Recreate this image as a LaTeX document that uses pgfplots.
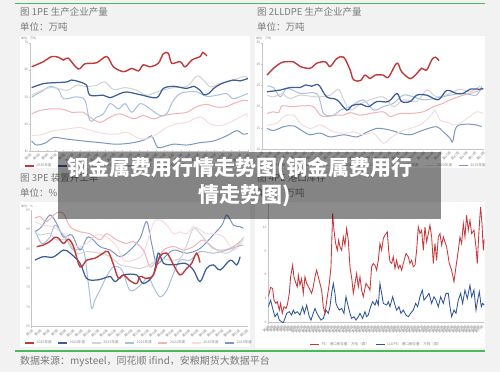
\documentclass[border=0pt]{standalone}
\usepackage{pgfplots}
\pgfplotsset{compat=1.18}
\usepackage{fontspec}
\setmainfont{Noto Sans CJK SC}
\definecolor{bg}{HTML}{F2F2F2}
\definecolor{grn}{HTML}{4CB85C}
\definecolor{c25}{HTML}{C0393B}
\definecolor{c24}{HTML}{3D5F96}
\definecolor{c23}{HTML}{D3D3D3}
\definecolor{c22}{HTML}{A8C0DE}
\definecolor{c21}{HTML}{F2B3B5}
\definecolor{c20}{HTML}{F6DCDD}
\definecolor{c19}{HTML}{7D97C4}
\definecolor{ttl}{HTML}{7A7A7A}
\definecolor{tk}{HTML}{8C8C8C}
\definecolor{p4r}{HTML}{C8373A}
\definecolor{p4b}{HTML}{2F5597}
\pgfplotsset{
  panel/.style={
    scale only axis, anchor=south west,
    axis lines=left,
    axis line style={-, draw=gray!45, line width=0.5pt},
    major tick length=1.2pt,
    tick style={draw=gray!45, line width=0.3pt},
    tick label style={font=\fontsize{3.3}{4}\selectfont, text=tk},
    /pgf/number format/assume math mode=true,
    x tick label style={rotate=45, anchor=north east, inner sep=0.8pt},
    y tick label style={inner sep=1pt},
    legend style={draw=none, fill=none, font=\fontsize{3.6}{4}\selectfont, text=tk,
      legend columns=-1, /tikz/every even column/.append style={column sep=4pt}, inner sep=0pt},
    legend image code/.code={\draw[#1, line width=1.2pt] (0pt,0pt) -- (9pt,0pt);},
    every axis plot/.append style={line width=1pt, smooth, tension=0.55, mark=none},
    reverse legend,
  },
}
\begin{document}
\begin{tikzpicture}
\fill[bg] (0pt,0pt) rectangle (500pt,372pt);
\useasboundingbox (0pt,0pt) rectangle (500pt,372pt);
% white panels
\fill[white] (20pt,204pt) rectangle (250pt,336pt);
\fill[white] (255pt,204pt) rectangle (485pt,336pt);
\fill[white] (20pt,25pt) rectangle (250pt,170pt);
\fill[white] (255pt,24pt) rectangle (485pt,170pt);
% green rules
\draw[grn, line width=1.5pt] (15pt,368.5pt) -- (485pt,368.5pt);
\draw[grn, line width=2pt] (15pt,21pt) -- (485pt,21pt);
% titles
\node[anchor=base west, text=ttl, font=\fontsize{9.5}{11}\selectfont, inner sep=0] at (20pt,356pt) {图 1PE 生产企业产量};
\node[anchor=base west, text=ttl, font=\fontsize{9.5}{11}\selectfont, inner sep=0] at (20pt,341pt) {单位：万吨};
\node[anchor=base west, text=ttl, font=\fontsize{9.5}{11}\selectfont, inner sep=0] at (257pt,356pt) {图 2LLDPE 生产企业产量};
\node[anchor=base west, text=ttl, font=\fontsize{9.5}{11}\selectfont, inner sep=0] at (257pt,341pt) {单位：万吨};
\node[anchor=base west, text=ttl, font=\fontsize{9.5}{11}\selectfont, inner sep=0] at (20pt,190.5pt) {图 3PE 装置开工率};
\node[anchor=base west, text=ttl, font=\fontsize{9.5}{11}\selectfont, inner sep=0] at (20pt,175.5pt) {单位：\%};
\node[anchor=base west, text=ttl, font=\fontsize{9.5}{11}\selectfont, inner sep=0] at (257pt,190.5pt) {图 4PE 港口库存};
\node[anchor=base west, text=ttl, font=\fontsize{9.5}{11}\selectfont, inner sep=0] at (257pt,175.5pt) {单位：万吨};
\node[anchor=base west, text=ttl, font=\fontsize{10}{12}\selectfont, inner sep=0] at (20pt,8pt) {数据来源：mysteel，同花顺 ifind，安粮期货大数据平台};
% tiny unit labels
\node[anchor=west, text=tk, font=\fontsize{3}{3.5}\selectfont, inner sep=0] at (21pt,334pt) {单位：万吨};
\node[anchor=west, text=tk, font=\fontsize{3}{3.5}\selectfont, inner sep=0] at (256pt,334pt) {单位：万吨};
\node[anchor=west, text=tk, font=\fontsize{3}{3.5}\selectfont, inner sep=0] at (21pt,166pt) {单位：\%};

% ---------- Panel 1 ----------
\begin{axis}[panel, at={(30pt,221pt)}, width=218pt, height=108.3pt,
  xmin=1, xmax=53, ymin=30, ymax=70, ytick={30,40,...,70},
  xtick={1,3,...,53}, xticklabel={\pgfmathtruncatemacro{\w}{\tick}第\w 周},
  legend style={at={(0.5,0)}, anchor=center, yshift=-15pt}]
\addplot[c19] coordinates {(1.4,33.7)(2.6,32.2)(4.9,33.1)(6.6,35)(9.8,34.4)(13.7,33.7)(17.7,33.1)(21.7,32.5)(25.7,33.1)(28.8,34.4)(30,35.6)(31.2,31.9)(32,31.2)(35.2,32.5)(38.4,32.2)(41.6,33.1)(44.8,33.7)(47.9,35.6)(50.3,37.5)(51.9,36.2)(53,36.5)};
\addplot[c20] coordinates {(1.4,35.6)(4.2,36.2)(6.6,37.5)(9.8,38.1)(12.9,38.7)(15.3,37.7)(18.5,36.5)(21.7,36.2)(24.1,36.9)(26.5,35)(28.8,34.4)(31.2,36.2)(33.6,38.7)(36,40)(38.4,40.6)(41.6,42.5)(44,40)(46.3,39.3)(48.7,40.6)(51.1,42.5)(52.7,43.7)(53,42.5)};
\addplot[c21] coordinates {(1.4,43.7)(3.4,45)(6.6,45.6)(9,45.4)(10.9,44.3)(13.7,44.3)(15.3,42.5)(17.7,40.6)(20.1,42.5)(22.5,43.7)(25.7,41.9)(28,43.1)(30.4,41.9)(32.8,43.1)(35.2,43.7)(38.4,44.3)(40.8,46.4)(43.2,47.2)(45.6,46.2)(47.9,46.4)(49.5,47.5)(51.9,48.7)(53,48.5)};
\addplot[c22] coordinates {(1.4,49.9)(4.2,52.4)(5.8,53.9)(7.8,52.7)(9,49.3)(12.1,50)(14.1,48.7)(15.3,41.2)(16.9,42.5)(18.5,43.7)(20.1,47.5)(22.1,45.6)(23.7,47.5)(25.3,44.3)(27.3,47.5)(29.6,45.6)(32,43.1)(33.6,43.7)(35.2,48.7)(36.8,51.2)(38.4,51.8)(40.8,51.8)(43.2,50.2)(45.6,50.6)(47.9,51.2)(49.5,49.3)(51.9,50.6)(53,51.2)};
\addplot[c23] coordinates {(1.4,50.6)(5.8,53.4)(9.8,52.4)(12.1,54.3)(14.5,53.8)(16.9,54.3)(18.9,55.5)(20.9,52.7)(23.7,53.4)(26.5,52.4)(28.8,50.6)(32,52.2)(35.2,53.4)(38.4,53.9)(40.8,57.7)(42.4,56.2)(44,53.7)(46.3,54.9)(49.5,56.2)(52.3,57.7)(53,56.2)};
\addplot[c24, line width=1.25pt] coordinates {(1.4,53.4)(4.2,54.9)(6.6,55.2)(9.8,55.5)(10.9,56.2)(12.9,55.5)(14.5,54.3)(15.3,50.6)(18.5,50.6)(20.1,49.7)(22.5,51.2)(24.1,51.8)(27.3,50.8)(31.2,49.7)(32.8,53.1)(35.2,53.9)(38.4,53.1)(40,53.9)(41.6,52.4)(42.4,50.8)(43.6,51.2)(44.8,53.1)(46.7,54.9)(49.5,56.2)(51.1,55.9)(53,56.8)};
\addplot[c25, line width=1.4pt] coordinates {(1.4,61.1)(4.2,63.0)(6.2,64.9)(7.8,64.6)(9.0,63.6)(10.1,64.3)(12.5,60.3)(14.1,62.2)(16.9,62.6)(19.3,64.9)(20.9,61.1)(23.3,59.3)(25.3,60.5)(26.9,59.6)(28.0,61.8)(29.6,61.1)(31.6,62.4)(32.8,65.9)(34.0,66.1)(34.8,62.4)(36.8,63.0)(38.0,61.1)(39.6,63.6)(41.6,64.9)(42.2,66.4)(43.2,65.1)};
\legend{2019年度,2020年度,2021年度,2022年度,2023年度,2024年度,2025年度}
\end{axis}

% ---------- Panel 2 ----------
\begin{axis}[panel, at={(262pt,222.7pt)}, width=221.3pt, height=106.6pt,
  xmin=1, xmax=53, ymin=10, ymax=35, ytick={10,15,...,35},
  xtick={1,3,...,53}, xticklabel={\pgfmathtruncatemacro{\w}{\tick}第\w 周},
  legend style={at={(0.5,0)}, anchor=center, yshift=-16pt}]
\addplot[c19] coordinates {(2.2,14.9)(3.7,14.4)(6.1,15.3)(8.4,15.5)(10.8,14.1)(12.3,13.4)(14.7,13.8)(17,12.9)(20.2,13.4)(23.3,12.9)(25.2,13.8)(28,14.9)(31.1,14.5)(33.4,13.8)(35.8,13.4)(38.9,14.5)(42,15.3)(43.6,14.1)(45.2,12.6)(45.8,11.8)(46.7,15.3)(49.1,15.9)(51.4,15.7)(52.6,15.3)};
\addplot[c20] coordinates {(2.2,15.7)(4.5,16.1)(6.1,17.7)(8.4,18)(10,16.1)(12.3,14.9)(14.7,15.7)(17,14.5)(18.6,13.9)(20.9,13.8)(22.5,14.1)(24.8,13.4)(27.2,13.8)(29.5,11.4)(31.1,12.6)(33.4,14.1)(35.8,14.9)(38.1,15.7)(40.5,17.7)(41.7,19.2)(42.8,16.9)(45.2,16.1)(46.7,15.7)(49.9,17.7)(51.4,18.8)(53,18.4)};
\addplot[c21] coordinates {(2.2,18.4)(3.7,18.8)(4.9,18.6)(5.7,20.2)(7.6,20)(10.8,20.2)(13.1,20)(14.7,18)(16.2,17.7)(18.6,18)(20.2,18)(21.7,18.6)(24.1,18)(26.4,18.4)(29.5,18.8)(31.1,17.7)(33.4,18.4)(35.8,18.4)(38.9,18.8)(41.3,20)(43.6,20.8)(45.2,21.6)(48.3,22.7)(50.6,23.3)(53,24.1)};
\addplot[c22] coordinates {(2.2,24.8)(3.7,24.5)(5.3,22.3)(6.9,24.3)(10,23.1)(13.9,23)(15.5,18.4)(17.8,18)(19.4,19.2)(21.7,20)(24.8,21.6)(27.2,19.2)(29.5,20)(31.9,20.8)(34.2,22.7)(36.6,22.3)(38.9,21.6)(42,22)(45.2,22.7)(48.3,23.1)(51.4,22.7)(52.6,24.8)};
\addplot[c23] coordinates {(2.2,22.7)(3.7,22.3)(5.7,23)(7.6,21.9)(10,22.7)(13.9,22.3)(17,22.7)(19,24.1)(20.2,21.6)(21.7,19.2)(24.1,20.6)(26.4,21.6)(29.5,22.3)(31.9,20)(34.2,21.6)(37.4,21.2)(39.7,23.9)(42,22.3)(45.2,23.1)(47.5,24.1)(49.9,23.5)(52.2,24.8)};
\addplot[c24, line width=1.25pt] coordinates {(2.2,23.5)(5.3,23.9)(7.6,24.5)(10,24.5)(11.2,25.1)(12.7,24.8)(14.3,25.1)(16.2,22.3)(18.6,21.6)(20.9,19.2)(22.1,20.2)(24.1,20.6)(26,20)(28,21.2)(30.7,21.2)(32.7,23.1)(33.8,21.2)(35.8,21.2)(37.4,22.7)(39.7,22.7)(42.4,21.6)(44.4,23.8)(46.7,23.1)(48.3,23.1)(49.9,24.1)(52.2,24.1)(53,24.3)};
\addplot[c25, line width=1.4pt] coordinates {(2.2,27.4)(3.7,29)(5.3,30.2)(6.1,30.5)(8.4,30.5)(10,29.4)(12.3,29)(13.9,30.2)(15.9,30.5)(17,29.4)(18.6,31.3)(20.2,31.6)(21.7,28.6)(22.5,26.3)(24.1,26.1)(25.2,27.4)(26.4,26.6)(27.6,27.4)(29.5,27.4)(30.7,26.9)(32.7,30.2)(33.8,28.2)(35.8,26.6)(37.4,27.8)(38.5,29)(39.7,28.6)(40.9,31)(41.7,31.6)(42.6,30.8)};
\legend{2019年度,2020年度,2021年度,2022年度,2023年度,2024年度,2025年度}
\end{axis}

% ---------- Panel 3 ----------
\begin{axis}[panel, at={(31.7pt,45.3pt)}, width=215pt, height=116.7pt,
  xmin=1, xmax=53, ymin=65, ymax=95, ytick={65,70,...,95},
  xtick={1,3,...,53}, xticklabel={\pgfmathtruncatemacro{\w}{\tick}第\w 周},
  legend style={at={(0.5,0)}, anchor=center, yshift=-16.3pt}]
\addplot[c19] coordinates {(1.8,89.4)(3.4,90.7)(5.4,93.7)(7,91.6)(8.7,88)(10.7,88.6)(12.7,84.7)(14.7,88.1)(17.5,85.6)(20,84.7)(22.4,83)(24.8,84.7)(27.2,87.7)(28.8,92)(30,86.4)(31.2,81.3)(32.9,82.6)(35.3,84.7)(38.5,83.9)(41.7,85.1)(44.9,88.6)(47,91.1)(48.2,93.7)(49.8,91.1)(51.4,90.7)(52.2,90.3)};
\addplot[c20] coordinates {(1.8,92)(3.8,91.1)(6.2,90.7)(7.9,89.4)(9.5,88.3)(11.9,85.6)(14.3,86.4)(16.7,88.6)(19.1,88.1)(21.6,85.6)(23.2,82.1)(25.6,82.1)(28,83.9)(30.4,91.6)(32,92.4)(33.7,91.1)(35.3,88.9)(36.9,89.4)(38.5,88.9)(40.1,90.7)(41.7,89.9)(43.3,88.9)(44.9,88.9)(47.4,88.1)(49.8,84.7)(52.2,87.3)};
\addplot[c21] coordinates {(1.8,92.9)(3,93.3)(4.6,92)(7,94.3)(8.7,94.1)(10.3,90.7)(12.7,89.4)(15.1,88.9)(17.5,87.3)(19.1,88.9)(21.6,87.3)(24,86.4)(25.6,86.9)(28,84.7)(29.6,80.4)(31.2,82.1)(32.9,84.7)(35.3,85.6)(37.7,84.7)(40.1,85.6)(42.5,87.3)(44.9,85.1)(47.4,84.7)(49.8,85.6)(52.2,87.7)};
\addplot[c22] coordinates {(1.8,89.9)(3.4,86.4)(5.4,88)(6.6,91.1)(8.3,89)(9.5,87.3)(11.1,84.7)(13.5,84.7)(14.7,76.1)(15.5,69.7)(16.3,71.9)(17.5,74.4)(19.1,77.9)(20.8,80.4)(22.8,79.6)(24.8,74.3)(27.2,75.6)(29.2,77.7)(30.4,75.3)(32,72.7)(33.7,74.4)(35.3,78.7)(36.9,82.1)(39.3,82.1)(41.7,84.3)(44.9,83.9)(48.2,84.7)(50.6,85.6)(52.2,86)};
\addplot[c23] coordinates {(1.8,89)(3.4,88.6)(5.4,89)(7,87.3)(9.5,87.3)(11.9,83.9)(14.3,84.3)(17.5,83.9)(20,83)(22.4,80.9)(24.8,80.4)(27.2,80)(29.6,80.9)(32,82.6)(34.5,82.1)(36.9,82.6)(38.5,86)(40.1,90.3)(41.7,89)(43.3,86.9)(45.8,84.7)(48.2,83.9)(50.6,85.6)(52.2,88.1)};
\addplot[c24, line width=1.25pt] coordinates {(1.8,82.1)(3.8,83)(6.2,82.9)(8.7,84.7)(10.3,83.9)(12.7,81.3)(14.3,77.4)(16.7,77)(18.3,77.4)(20,77.9)(21.2,76.6)(23.2,78.3)(26.4,78.3)(28,76.1)(30.4,78.3)(31.6,83.9)(32.9,81.3)(35.3,80.9)(38.1,81.3)(40.1,79.6)(41.7,76.6)(43.3,80)(44.9,80.9)(46.6,79.6)(49,82.1)(50.6,80.9)(51.4,83)};
\addplot[c25, line width=1.4pt] coordinates {(2.2,85.6)(3.8,86)(5.4,86.9)(6.6,88)(7.5,87.7)(8.7,86.4)(9.9,87.5)(11.1,85.6)(12.7,80.4)(14.3,82.1)(16.3,82.6)(18.3,83.9)(19.5,84.3)(20.8,80.9)(22,77.4)(23.2,78.3)(24.8,76.8)(26.4,76.1)(27.2,77.9)(28.8,77.4)(30.4,78.3)(32,83)(33.7,83.9)(35.3,80.9)(36.9,78.3)(38.5,80)(39.7,81.3)(40.9,83.9)(41.7,81.5)};
\legend{2019年度,2020年度,2021年度,2022年度,2023年度,2024年度,2025年度}
\end{axis}

% ---------- Panel 4 ----------
\begin{axis}[panel, at={(268.3pt,49.3pt)}, width=216pt, height=119.7pt,
  xmin=0, xmax=129.6, ymin=0, ymax=15, ytick={0,3,...,15},
  xtick={0,2,...,128}, xticklabel={\pgfmathtruncatemacro{\w}{\tick/2+1}第\w 期},
  every axis plot/.append style={sharp plot, line width=0.85pt},
  legend style={at={(0.5,0)}, anchor=center, yshift=-21.6pt}]
\addplot[p4b] coordinates {(0,2)(1.4,2.83)(2.6,1.79)(4,0.75)(5.4,1.17)(6.6,0.33)(8,0.13)(9,0)(10,0.54)(11,1.17)(12.6,1.38)(14,0.96)(15,1.58)(16,1.17)(17.4,1.38)(19,0.96)(20.6,2)(21.6,1.17)(23,2.21)(24.6,0.75)(25.6,0.33)(26.6,0.96)(28,1.79)(29,1.25)(30.4,0.75)(31.6,0.33)(33,0.54)(34.6,1.58)(36,1.17)(37,2)(38,3.67)(39,4.92)(40,3.67)(40.6,2.42)(41.4,2)(42.6,1.58)(44,1.79)(45.4,1.17)(46.6,3.25)(48,2)(49,1.17)(50,0.54)(51.4,0.75)(52.6,0.33)(54,0.75)(55,1.17)(56.6,0.54)(58,1.38)(59,0.75)(60,0.96)(61.4,2)(62.6,2.63)(64,2.21)(65,2.83)(66,2.21)(67,4.92)(68,3.67)(69,2.42)(71,2.21)(72,2.63)(73,2)(74.6,3.25)(76,2.21)(77,1.58)(78.4,2)(79.6,1.17)(81,1.58)(82.6,0.96)(84,0.75)(85.4,1.17)(87,1.58)(88.4,2.42)(89.6,2)(91,3.25)(92.4,4.08)(93.4,2.83)(95,3.25)(96.4,3.67)(98,2.42)(99.4,3.25)(100.6,2.83)(102,2)(103.4,3.25)(105,2.42)(106.6,3.67)(108,3.67)(109,2)(110,0.75)(111.4,1.58)(112.6,1.17)(114,2.83)(115.4,3.67)(116.6,2.42)(118,4.08)(119.4,3.04)(121,4.71)(122,3.25)(123.4,4.08)(124.6,1.58)(125.6,2.83)(126.6,3.88)(127.8,2)(128.6,2.42)(129.6,2.21)};
\addplot[p4r] coordinates {(0,3.25)(1.4,4.42)(2.6,4.29)(3.4,2.83)(4.6,2.42)(5.4,2.63)(6.6,1.58)(7.4,2.42)(8.4,1.17)(9.4,2)(10.6,1.79)(11.4,2.21)(12.6,3.67)(13.4,5.75)(14.6,7.21)(15.4,5.75)(16.6,4.92)(17.4,4.5)(18,5.96)(19,4.71)(20,5.54)(21,3.67)(22,5.75)(23,4.92)(24.6,4.29)(26,3.67)(27,4.5)(28,5.75)(29,6.58)(30,5.75)(31,4.92)(32,4.08)(33,2)(34,1.17)(35.4,3.25)(36.6,4.92)(37.6,7)(38.6,13.67)(39.4,11.58)(40.4,9.92)(41.4,9.08)(42.2,10.33)(43,9.5)(44,9.08)(45,10.75)(46,9.71)(47,11.79)(48,10.33)(49,7)(50.2,5.33)(51,3.67)(52,4.92)(53,6.17)(54,4.5)(55,5.75)(56,4.08)(57,3.25)(58.6,4.92)(60,4.5)(61,4.08)(62,7)(63,7.42)(64,7.21)(65,6.58)(66,7.83)(67,9.92)(68,9.08)(69,10.54)(70,10.96)(71.4,11.38)(72.2,9.08)(73,7.63)(74,7.42)(75,8.25)(76,6.79)(77,7.83)(78,6.79)(79,7.21)(80,6.58)(81,7.42)(82.6,8.67)(84,8.25)(85,7.42)(86,7.83)(87,7)(88,7.21)(89,9.08)(90,12)(91,11.17)(92,11.58)(93,9.08)(94,12)(95,10.13)(96,11.17)(97,12.21)(98,10.75)(99,7.42)(100,9.92)(101,7.83)(102,10.75)(103,11.17)(104,9.71)(105,10.75)(107,9.5)(108.6,7.42)(110,6.58)(111.4,5.13)(112.6,7)(114,9.08)(115,10.75)(116,9.92)(117,12.42)(118,10.75)(119,13.46)(120,11.58)(121,12.83)(122,11.17)(123.4,11.58)(124.6,9.5)(125.4,7.42)(126.2,10.75)(127,13.46)(127.4,14.5)(128.2,12.42)(129,9.08)(129.6,10.54)};
\legend{LLDPE：港口库存量：万吨（周）,PE：港口库存量：万吨（周）}
\end{axis}

% ---------- overlay banner ----------
\fill[black, fill opacity=0.45] (58pt,153pt) rectangle (441pt,220pt);
\node[anchor=base, text=white, font=\fontsize{21}{25}\selectfont\bfseries, inner sep=0] at (240pt,196.5pt) {钢金属费用行情走势图(钢金属费用行};
\node[anchor=base, text=white, font=\fontsize{21}{25}\selectfont\bfseries, inner sep=0] at (245pt,169pt) {情走势图)};
\end{tikzpicture}
\end{document}
